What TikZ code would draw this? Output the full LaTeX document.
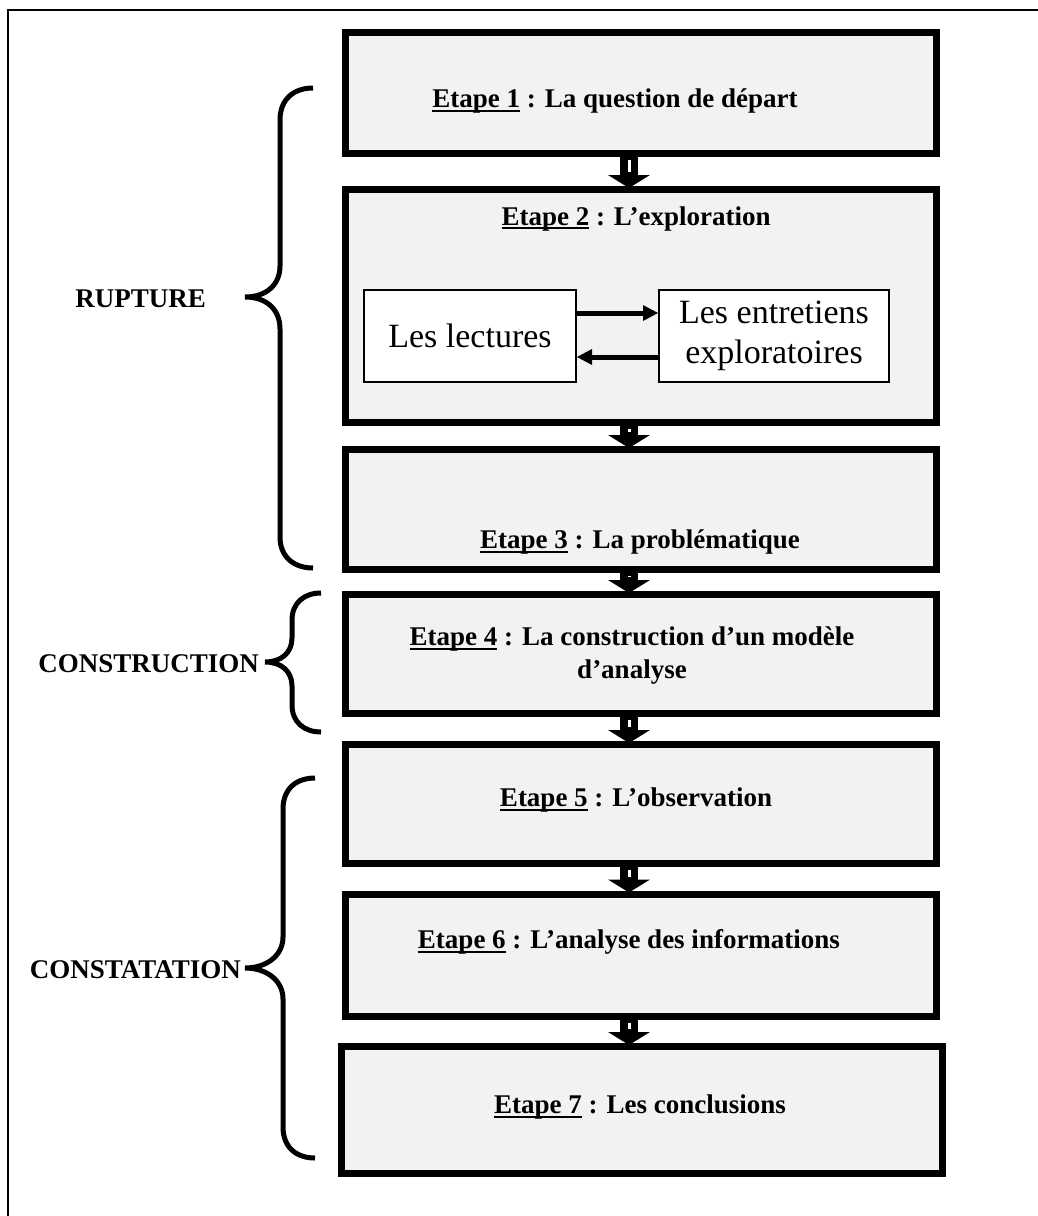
\documentclass[tikz,border=0pt]{standalone}
\usepackage{fontspec}
\setmainfont{Liberation Serif}
\usetikzlibrary{arrows.meta,calc}
\definecolor{boxgray}{RGB}{242,242,242}
\newcommand\myul[1]{\setbox0\hbox{#1}\rlap{\rule[-4pt]{\wd0}{2pt}}\box0\relax}
\newcommand\bigtxt{\fontsize{27}{32}\selectfont\bfseries}
\newcommand\plaintxt{\fontsize{34}{40}\selectfont}
\begin{document}
\begin{tikzpicture}[x=1pt,y=-1pt,
  stepbox/.style={draw=black,fill=boxgray,line width=7pt,inner sep=0pt,minimum width=591pt},
  subbox/.style={draw=black,fill=white,line width=2pt,inner sep=0pt,minimum height=92pt,align=center,font=\plaintxt},
  steptext/.style={font=\bigtxt,align=center,inner sep=0pt},
  phase/.style={font=\bigtxt,inner sep=0pt},
  brace/.style={line width=5pt,line cap=butt},
  blk/.style={line width=18pt,-{Triangle[width=42pt,length=13pt,line width=0pt]},
    shorten <=-4pt, shorten >=-2pt,
    postaction={draw=white,line width=3pt,-,shorten <=3pt,shorten >=14pt}},
  arr/.style={line width=5pt,-{Triangle[width=16pt,length=15pt,line width=0pt]}}]
\useasboundingbox (0,0) rectangle (1038,1216);
\clip (0,0) rectangle (1038,1216);
% outer frame
\draw[line width=2pt] (8,10) rectangle (1060,1240);
% step boxes
\node[stepbox,minimum height=121pt] (b1) at (641,93) {};
\node[stepbox,minimum height=233pt] (b2) at (641,306) {};
\node[stepbox,minimum height=120pt] (b3) at (641,509.5) {};
\node[stepbox,minimum height=119pt] (b4) at (641,654) {};
\node[stepbox,minimum height=119pt] (b5) at (641,804) {};
\node[stepbox,minimum height=122pt] (b6) at (641,955) {};
\node[stepbox,minimum height=127pt,minimum width=601pt] (b7) at (642,1110) {};
% texts
\node[steptext] (t1) at (615,101) {\myul{Etape 1} : La question de départ};
\node[steptext] (t2) at (636,219) {\myul{Etape 2} : L’exploration};
\node[steptext] (t3) at (640,542) {\myul{Etape 3} : La problématique};
\node[steptext] (t4) at (632,656) {\myul{Etape 4} : La construction d’un modèle\\[1pt] d’analyse};
\node[steptext] (t5) at (636,800) {\myul{Etape 5} : L’observation};
\node[steptext] (t6) at (629,942) {\myul{Etape 6} : L’analyse des informations};
\node[steptext] (t7) at (640,1107) {\myul{Etape 7} : Les conclusions};
% sub boxes
\node[subbox,minimum width=212pt] (lect) at (470,336) {Les lectures};
\node[subbox,minimum width=230pt] (entr) at (774,336) {Les entretiens\\exploratoires};
\draw[arr] ([yshift=23pt]lect.east) -- ([yshift=23pt]entr.west);
\draw[arr] ([yshift=-21pt]entr.west) -- ([yshift=-21pt]lect.east);
% block arrows
\draw[blk] ([xshift=-12pt]b1.south) -- ([xshift=-12pt]b2.north);
\draw[blk] ([xshift=-12pt]b2.south) -- ([xshift=-12pt]b3.north);
\draw[blk] ([xshift=-12pt]b3.south) -- ([xshift=-12pt]b4.north);
\draw[blk] ([xshift=-12pt]b4.south) -- ([xshift=-12pt]b5.north);
\draw[blk] ([xshift=-12pt]b5.south) -- ([xshift=-12pt]b6.north);
\draw[blk] ([xshift=-12pt]b6.south) -- ([xshift=-13pt]b7.north);
% phase labels
\node[phase,anchor=east] (rup) at (206,299) {RUPTURE};
\node[phase,anchor=east] (cons) at (259,664) {CONSTRUCTION};
\node[phase,anchor=east] (cst) at (241,970) {CONSTATATION};
% braces
\draw[brace] (313,88) .. controls (294,88) and (280,99) .. (280,120) -- (280,266)
  .. controls (280,285) and (266,297) .. (245,297)
  .. controls (266,297) and (280,309) .. (280,329) -- (280,537)
  .. controls (280,557) and (294,568) .. (313,568);
\draw[brace] (321,593) .. controls (304,593) and (292,603) .. (292,620) -- (292,638)
  .. controls (292,653) and (281,662) .. (265,662)
  .. controls (281,662) and (292,671) .. (292,686) -- (292,705)
  .. controls (292,722) and (304,732) .. (321,732);
\draw[brace] (315,778) .. controls (296,778) and (283,789) .. (283,809) -- (283,937)
  .. controls (283,956) and (266,968) .. (245,968)
  .. controls (266,968) and (283,980) .. (283,999) -- (283,1127)
  .. controls (283,1147) and (296,1158) .. (315,1158);
\end{tikzpicture}
\end{document}
